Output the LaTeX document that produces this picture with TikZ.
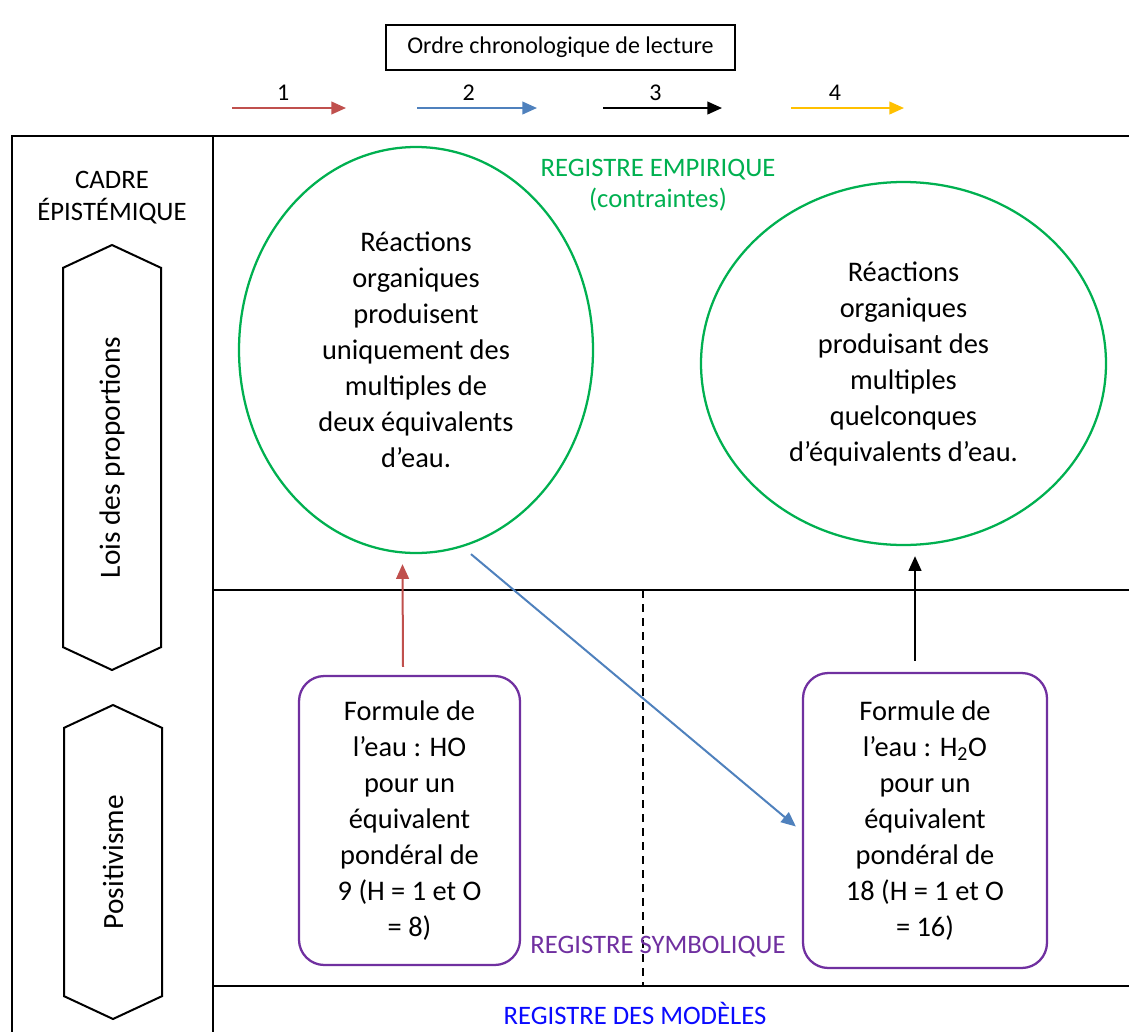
\documentclass[tikz,border=0pt]{standalone}
\usepackage{fontspec}
\setmainfont{Carlito}
\usetikzlibrary{positioning,arrows.meta,shapes.geometric,shapes.symbols}

\definecolor{vert}{HTML}{00B050}
\definecolor{regviolet}{HTML}{7030A0}
\definecolor{rouge}{HTML}{C0504D}
\definecolor{bleu}{HTML}{4F81BD}
\definecolor{jaune}{HTML}{FFC000}
\definecolor{bleumod}{HTML}{0A0AFF}

\begin{document}
\begin{tikzpicture}[
  x=0.75pt, y=-0.75pt,
  font=\fontsize{21.3}{27}\selectfont,
  frm/.style={line width=1.6pt},
  ell/.style={ellipse, draw=vert, line width=1.7pt, align=center, inner sep=0pt},
  rbox/.style={draw=regviolet, line width=1.7pt, rounded corners=19pt,
               align=center, inner sep=0pt},
  hexa/.style={signal, signal to=east and west, signal pointer angle=130,
               draw, line width=1.5pt, rotate=90, inner sep=0pt,
               minimum height=73.5pt, font=\fontsize{22}{27}\selectfont},
  lbl/.style={font=\fontsize{20}{23.5}\selectfont, align=center, inner sep=0pt},
  >={Triangle[length=11pt, width=9.5pt]},
  ar/.style={->, line width=1.5pt},
]

\useasboundingbox (0,0) rectangle (1129,1032);

\node[draw, line width=1.2pt, minimum width=261.75pt, minimum height=33.75pt,
      font=\fontsize{18}{22}\selectfont] (ordre) at (560.5,47.5)
     {Ordre chronologique de lecture};

\coordinate (r1) at (232,108);
\coordinate (r2) at (346,108);
\coordinate (b1) at (417,108);
\coordinate (b2) at (537,108);
\coordinate (k1) at (603,108);
\coordinate (k2) at (722,108);
\coordinate (j1) at (791,108);
\coordinate (j2) at (904,108);
\draw[ar, rouge] (r1) -- node[above=5pt, pos=0.45, text=black,
      font=\fontsize{18}{22}\selectfont, inner sep=0pt] {1} (r2);
\draw[ar, bleu] (b1) -- node[above=5pt, pos=0.43, text=black,
      font=\fontsize{18}{22}\selectfont, inner sep=0pt] {2} (b2);
\draw[ar, black] (k1) -- node[above=5pt, pos=0.44, text=black,
      font=\fontsize{18}{22}\selectfont, inner sep=0pt] {3} (k2);
\draw[ar, jaune] (j1) -- node[above=5pt, pos=0.39, text=black,
      font=\fontsize{18}{22}\selectfont, inner sep=0pt] {4} (j2);

\draw[frm] (12,1040) -- (12,136) -- (1140,136);
\draw[frm] (213,136) -- (213,1040);
\draw[frm] (213,590) -- (1140,590);
\draw[frm] (213,986) -- (1140,986);
\draw[frm, dash pattern=on 6pt off 4.5pt] (643,590) -- (643,986);

\node[lbl] (cadre) at (112,197.5) {CADRE\\ÉPISTÉMIQUE};
\node[hexa, minimum width=318.75pt] (lois) at (112,457.5) {Lois des proportions};
\node[hexa, minimum width=235.5pt] (posit) at (113,862) {Positivisme};

\node[lbl, text=vert] (emp) at (658,185.5) {REGISTRE EMPIRIQUE\\(contraintes)};
\node[lbl, text=regviolet] (sym) at (658,947) {REGISTRE SYMBOLIQUE};
\node[lbl, text=bleumod] (mod) at (635,1013) {REGISTRE DES MODÈLES};

\node[ell, minimum width=265.5pt, minimum height=304.5pt] (ell1) at (416,350)
     {Réactions\\ organiques\\ produisent\\ uniquement des\\ multiples de\\
      deux équivalents\\ d’eau.};
\node[ell, minimum width=303.75pt, minimum height=272.25pt] (ell2) at (903.5,363.5)
     {Réactions\\ organiques\\ produisant des\\ multiples\\ quelconques\\
      d’équivalents d’eau.};

\node[rbox, minimum width=165.75pt, minimum height=216.75pt] (box1) at (409.5,820.5)
     {Formule de\\ l’eau : HO\\ pour un\\ équivalent\\ pondéral de\\
      9 (H = 1 et O\\ = 8)};
\node[rbox, minimum width=183pt, minimum height=221.25pt] (box2) at (925,820.5)
     {Formule de\\ l’eau : H\textsubscript{2}O\\ pour un\\ équivalent\\
      pondéral de\\ 18 (H = 1 et O\\ = 16)};

\draw[ar, rouge] ([shift={(-6.5,-8)}]box1.north) -- ([shift={(-13.5,10)}]ell1.south);
\draw[ar, bleu] ([shift={(55,0)}]ell1.south) -- ([shift={(-6,6)}]box2.west);
\draw[ar, black] ([shift={(-10,-11)}]box2.north) -- ([shift={(11.5,10)}]ell2.south);

\end{tikzpicture}
\end{document}
